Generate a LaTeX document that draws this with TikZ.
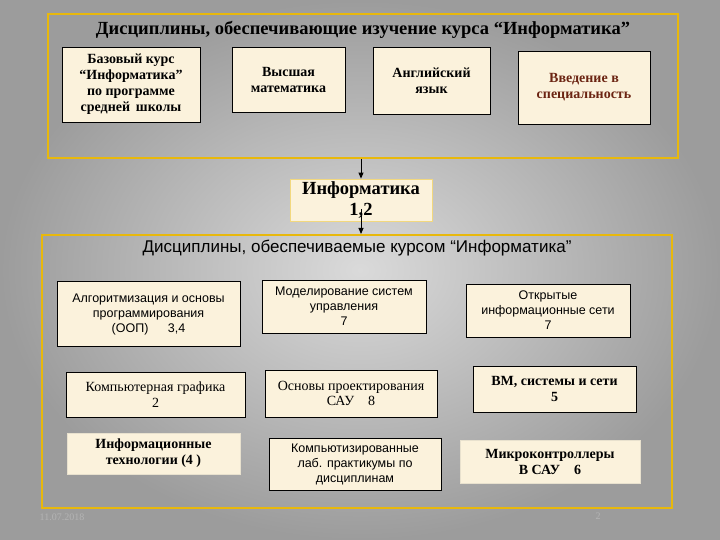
\documentclass[tikz,border=0pt]{standalone}
\usepackage{fontspec}
\setmainfont{Liberation Serif}
\setsansfont{Liberation Sans}
\usetikzlibrary{arrows.meta}

\definecolor{frame}{HTML}{E8B80C}
\definecolor{cream}{HTML}{FBF2DC}
\definecolor{bgin}{HTML}{DADADA}
\definecolor{bgout}{HTML}{9C9C9C}
\definecolor{redbrown}{HTML}{6B2412}
\definecolor{faint}{HTML}{B4B4B4}

\begin{document}
\begin{tikzpicture}[x=1pt, y=-1pt,
    every node/.style={align=center, inner sep=2pt},
    frm/.style={draw=frame, line width=2pt, minimum width=630},
    bx/.style={draw=black, line width=0.8pt, fill=cream},
    bxn/.style={draw=cream!85!gray, line width=0.4pt, fill=cream},
    inf/.style={draw=frame!45!cream, line width=0.8pt, fill=cream},
    srf/.style={font=\fontsize{14}{16}\selectfont\bfseries},
    sr/.style={font=\fontsize{14}{15.5}\selectfont},
    ss/.style={font=\sffamily\fontsize{12.5}{15}\selectfont},
    ttl/.style={font=\fontsize{18.5}{20}\selectfont\bfseries},
    ttls/.style={font=\sffamily\fontsize{17}{19}\selectfont},
    ftr/.style={font=\fontsize{10}{12}\selectfont, text=faint},
    e/.style={-{Triangle[length=6pt, width=5pt]}, line width=1pt},
  ]
  \useasboundingbox (0,0) rectangle (720,540);
  \shade[inner color=bgin, outer color=bgout] (0,0) rectangle (720,540);

  % upper block
  \node[frm, minimum height=144] (top) at (363, 86) {};
  \node[ttl] (ttop) at (363, 30) {Дисциплины, обеспечивающие изучение курса “Информатика”};
  \node[bx, srf, minimum width=138, minimum height=75] (base) at (131, 84.5) {Базовый курс\\“Информатика”\\по программе\\средней\, школы};
  \node[bx, srf, minimum width=113, minimum height=65] (math) at (288.5, 79.5) {Высшая\\математика};
  \node[bx, srf, minimum width=117, minimum height=67] (engl) at (431.5, 80.5) {Английский\\язык};
  \node[bx, srf, text=redbrown, minimum width=132, minimum height=73] (intro) at (584, 87.5) {Введение в\\специальность};

  \node[inf, font=\fontsize{18.5}{21}\selectfont\bfseries, minimum width=142, minimum height=42] (info) at (361, 200) {Информатика\\1,2};

  % lower block
  \node[frm, minimum height=273] (bot) at (357, 371.5) {};
  \node[ttls] (tbot) at (357, 248) {Дисциплины, обеспечиваемые курсом “Информатика”};
  \node[bx, ss, minimum width=183, minimum height=65] (alg) at (148.5, 314) {Алгоритмизация и основы\\программирования\\(ООП)\quad\ \ 3,4};
  \node[bx, ss, minimum width=164, minimum height=53] (model) at (344, 306.5) {Моделирование систем\\управления\\7};
  \node[bx, ss, minimum width=164, minimum height=53] (nets) at (548, 310.5) {Открытые\\информационные сети\\7};
  \node[bx, sr, minimum width=179, minimum height=45] (graph) at (155.5, 394.5) {Компьютерная графика\\2};
  \node[bx, sr, minimum width=172, minimum height=47] (sau) at (351, 393.5) {Основы проектирования\\САУ\quad 8};
  \node[bx, srf, minimum width=163, minimum height=46] (vm) at (554.5, 389) {ВМ, системы и сети\\5};
  \node[bxn, srf, minimum width=173, minimum height=41] (it) at (153.5, 453.5) {Информационные\\технологии (4 )};
  \node[bx, ss, minimum width=172, minimum height=52] (lab) at (355, 464) {Компьютизированные\\лаб. практикумы по\\дисциплинам};
  \node[bxn, srf, minimum width=180, minimum height=43] (mc) at (550, 461.5) {Микроконтроллеры\\В САУ\quad 6};

  \draw[e] (info.north |- top.south) -- (info.north);
  \draw[e] ([yshift=12pt]info.south) -- (info.south |- bot.north);

  \node[ftr] (date) at (62, 517) {11.07.2018};
  \node[ftr] (page) at (598, 516) {2};
\end{tikzpicture}
\end{document}
